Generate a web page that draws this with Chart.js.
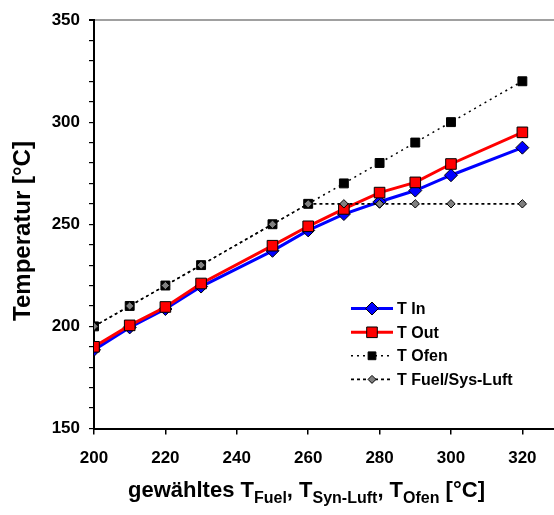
<!DOCTYPE html>
<html>
<head>
<meta charset="utf-8">
<script src="https://cdn.jsdelivr.net/npm/chart.js"></script>
<style>
html,body{margin:0;padding:0;background:#fff;overflow:hidden;width:554px;height:515px;}
canvas{display:block;}
</style>
</head>
<body>
<canvas id="c" width="563" height="515"></canvas>
<script>
// ---- data ----
const xValues = [200, 210, 220, 230, 250, 260, 270, 280, 290, 300, 320];
const tIn     = [188.5, 199.5, 208.5, 219.5, 237, 247, 255, 261, 266.5, 274, 287.5];
const tOut    = [190, 200.5, 209.5, 221, 239.5, 249, 257.5, 265.5, 270.5, 279.5, 295];
const tOfen   = [200, 210, 220, 230, 250, 260, 270, 280, 290, 300, 320];
const tFuel   = [200, 210, 220, 230, 250, 260, 260, 260, 260, 260, 260];
const seriesNames = ['T In', 'T Out', 'T Ofen', 'T Fuel/Sys-Luft'];
const xTickLabels = [200, 220, 240, 260, 280, 300, 320];
const yTickLabels = [150, 200, 250, 300, 350];

const FONT = "'Liberation Sans', Arial, sans-serif";
const pts = arr => arr.map((v, i) => ({x: xValues[i], y: v}));

const datasets = [
  {label: seriesNames[0], data: pts(tIn), borderColor: '#0000FF', backgroundColor: '#0000FF',
   borderWidth: 3, pointStyle: 'rectRot', pointRadius: 6.5, pointBorderColor: '#000', pointBorderWidth: 1,
   pointBackgroundColor: '#0000FF', order: 4, legendSize: 6.5},
  {label: seriesNames[1], data: pts(tOut), borderColor: '#FF0000', backgroundColor: '#FF0000',
   borderWidth: 3, pointStyle: 'rect', pointRadius: 7.5, pointBorderColor: '#000', pointBorderWidth: 1,
   pointBackgroundColor: '#FF0000', order: 3, legendSize: 7.5},
  {label: seriesNames[2], data: pts(tOfen), borderColor: '#000', backgroundColor: '#000',
   borderWidth: 1.5, borderDash: [2, 4], pointStyle: 'rect', pointRadius: 6.3, pointBorderColor: '#000',
   pointBorderWidth: 1, pointBackgroundColor: '#000', order: 2, legendSize: 5.5},
  {label: seriesNames[3], data: pts(tFuel), borderColor: '#000', backgroundColor: '#808080',
   borderWidth: 1.6, borderDash: [3, 3], pointStyle: 'rectRot', pointRadius: 4.2, pointBorderColor: '#000',
   pointBorderWidth: 1, pointBackgroundColor: '#808080', order: 1, legendSize: 4}
];

function marker(ctx, style, x, y, r, fill, stroke) {
  ctx.save();
  ctx.setLineDash([]);
  ctx.beginPath();
  if (style === 'rect') {
    const s = Math.SQRT1_2 * r;
    ctx.rect(x - s, y - s, 2 * s, 2 * s);
  } else {
    ctx.moveTo(x - r, y); ctx.lineTo(x, y - r); ctx.lineTo(x + r, y); ctx.lineTo(x, y + r); ctx.closePath();
  }
  ctx.fillStyle = fill; ctx.fill();
  ctx.lineWidth = 1; ctx.strokeStyle = stroke; ctx.stroke();
  ctx.restore();
}

const decorPlugin = {
  id: 'decor',
  afterDraw(chart) {
    const ctx = chart.ctx;
    // legend
    const rows = [308.5, 332.3, 355.8, 379.4];
    datasets.forEach((d, i) => {
      const y = rows[i];
      ctx.save();
      ctx.strokeStyle = d.borderColor;
      ctx.lineWidth = d.borderWidth;
      ctx.setLineDash(d.borderDash || []);
      ctx.beginPath(); ctx.moveTo(351, y); ctx.lineTo(393, y); ctx.stroke();
      ctx.restore();
      marker(ctx, d.pointStyle, 372, y, d.legendSize, d.pointBackgroundColor, '#000');
      ctx.save();
      ctx.fillStyle = '#000';
      ctx.font = 'bold 16px ' + FONT;
      ctx.textBaseline = 'middle';
      ctx.textAlign = 'left';
      ctx.fillText(d.label, 397, y + 1);
      ctx.restore();
    });
    // y title
    ctx.save();
    ctx.translate(23, 231);
    ctx.rotate(-Math.PI / 2);
    ctx.font = 'bold 24px ' + FONT;
    ctx.fillStyle = '#000';
    ctx.textAlign = 'center';
    ctx.textBaseline = 'middle';
    ctx.fillText('Temperatur [°C]', 0, 0);
    ctx.restore();
    // x title with subscripts
    const parts = [
      ['gewähltes T', 22, 0], ['Fuel', 16, 6], [', T', 22, 0], ['Syn-Luft', 16, 6],
      [', T', 22, 0], ['Ofen', 16, 6], [' [°C]', 22, 0]
    ];
    ctx.save();
    ctx.fillStyle = '#000';
    ctx.textBaseline = 'alphabetic';
    ctx.textAlign = 'left';
    let total = 0;
    parts.forEach(p => { ctx.font = 'bold ' + p[1] + 'px ' + FONT; total += ctx.measureText(p[0]).width; });
    let x = 306.5 - total / 2;
    const base = 497;
    parts.forEach(p => {
      ctx.font = 'bold ' + p[1] + 'px ' + FONT;
      ctx.fillText(p[0], x, base + p[2]);
      x += ctx.measureText(p[0]).width;
    });
    ctx.restore();
  }
};

new Chart(document.getElementById('c'), {
  type: 'line',
  data: {datasets},
  options: {
    responsive: false,
    animation: false,
    layout: {padding: {top: 20, right: 0, bottom: 0, left: 0}},
    plugins: {legend: {display: false}, tooltip: {enabled: false}},
    scales: {
      x: {
        type: 'linear', min: 200, max: 329,
        afterBuildTicks: s => { s.ticks = xTickLabels.map(v => ({value: v})); },
        afterFit: s => { s.height = 515 - 428.5; },
        ticks: {stepSize: 20, color: '#000', font: {family: FONT, size: 17, weight: 'bold'}, padding: 14, maxRotation: 0, autoSkip: false},
        grid: {drawOnChartArea: false, drawTicks: true, tickLength: 6, color: '#000', lineWidth: 1.5},
        border: {display: true, color: '#000', width: 2}
      },
      y: {
        type: 'linear', min: 150, max: 350,
        afterFit: s => { s.width = 94; },
        ticks: {stepSize: 10, autoSkip: false, color: '#000', padding: 9,
          font: {family: FONT, size: 17, weight: 'bold'},
          callback: v => yTickLabels.includes(v) ? String(v) : ''},
        grid: {drawOnChartArea: true, drawTicks: true, tickLength: 5,
          color: c => (c.tick && c.tick.value === 350) ? '#A0A0A0' : 'rgba(0,0,0,0)',
          tickColor: '#000', lineWidth: c => (c.tick && c.tick.value === 350) ? 2 : 1.2},
        border: {display: true, color: '#000', width: 2}
      }
    }
  },
  plugins: [decorPlugin]
});
</script>
</body>
</html>
